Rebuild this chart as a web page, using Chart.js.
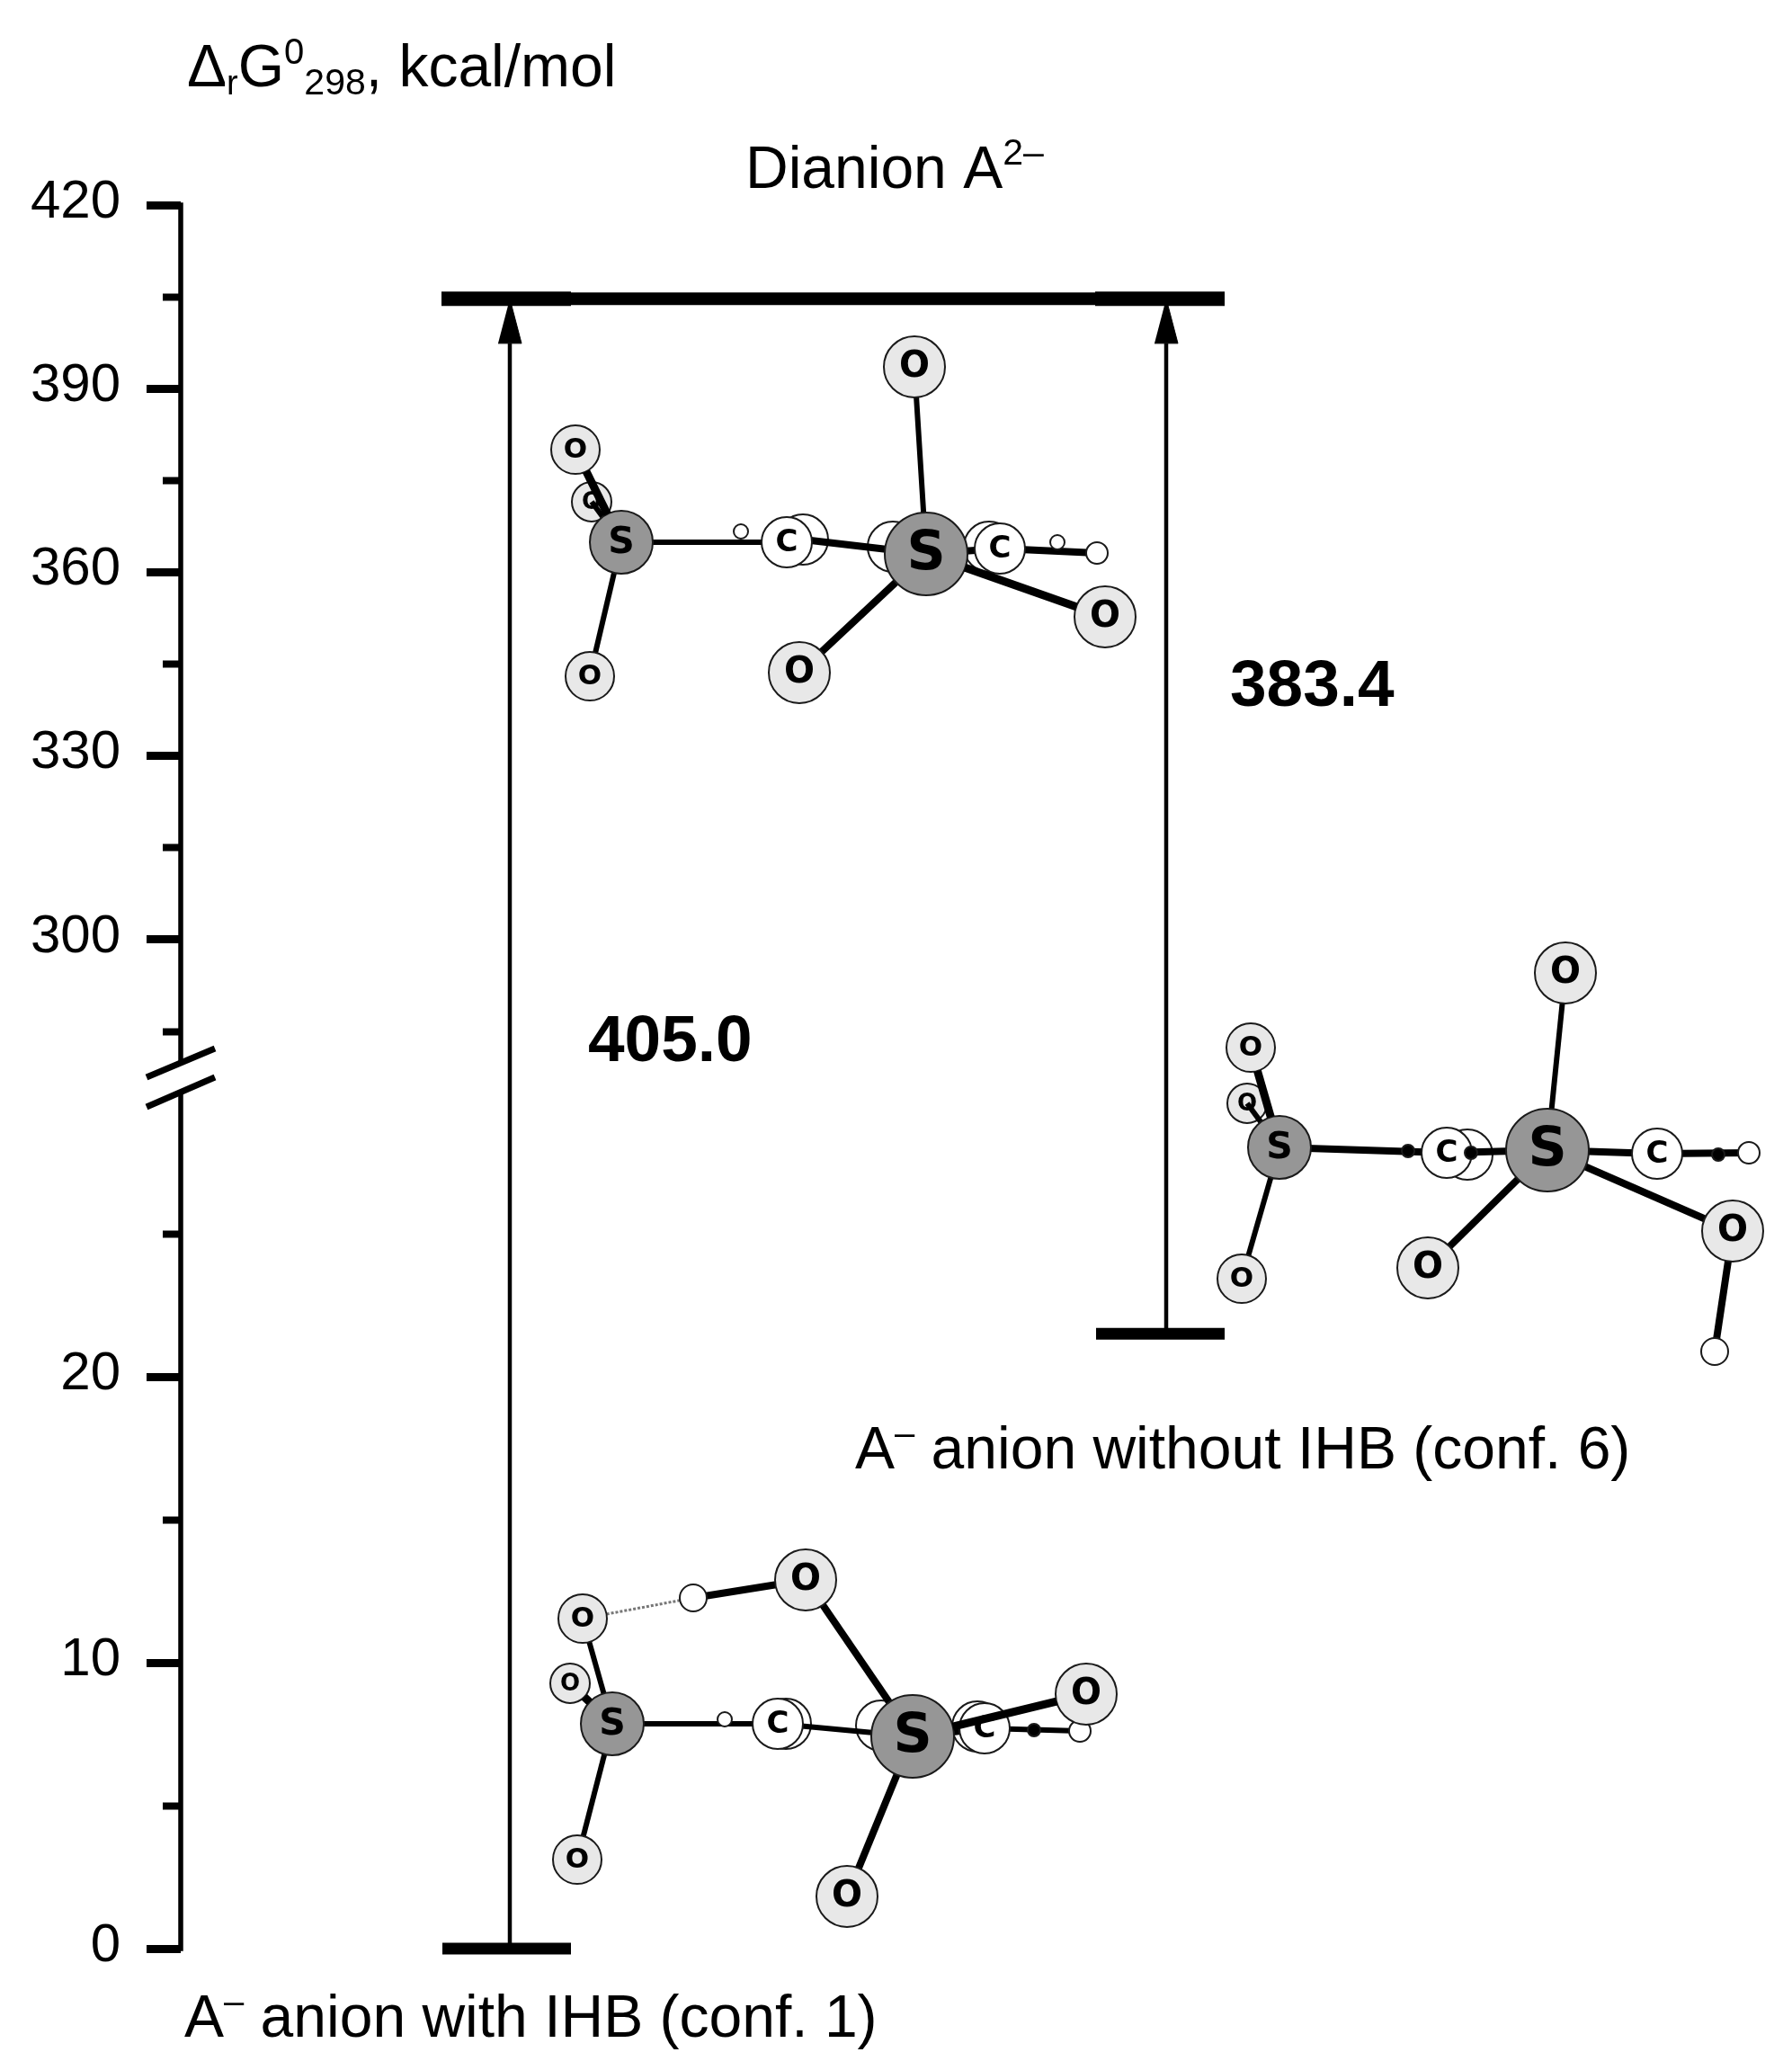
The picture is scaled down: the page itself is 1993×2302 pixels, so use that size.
<!DOCTYPE html>
<html>
<head>
<meta charset="utf-8">
<title>Energy diagram</title>
<script src="https://cdn.jsdelivr.net/npm/chart.js@4/dist/chart.umd.js"></script>
<style>
  html, body { margin: 0; padding: 0; background: #fff; }
  canvas { display: block; }
</style>
</head>
<body>
<canvas id="chart" width="1993" height="2302"></canvas>
<script>
// axis ticks, kcal/mol
const majorTicks = [0, 10, 20, 300, 330, 360, 390, 420];
const minorTicks = [5, 15, 25, 285, 315, 345, 375, 405];
const lowerAxisEnd = [0, 29.9];
const upperAxisEnd = [280, 420];

// energy levels
const levelDianion = 404.7;
const levelConf1 = 0;
const levelConf6 = 21.5;
const levelNames = ["Dianion A", "A– anion with IHB (conf. 1)", "A– anion without IHB (conf. 6)"];
const gapLabels = ["405.0", "383.4"];

// molecules, on the sheet axes (sx, sy)
const mol1Kinds = ["O","Om","Ob","S","C","Cb","Hs","SB","Cb","C","Cb","Hs","H","O","O","Om"];
const mol1X = [1017,640,658,691,875,893,824,1030,993,1112,1100,1176,1220,1229,889,656];
const mol1Y = [408,500,558,603,603,600,591,616,608,610,608,603,615,686,748,752];
const mol1Bonds = [[0,7,"mid"],[1,3,"over"],[2,3,"mid"],[3,15,"mid"],[3,4,"mid"],[5,7,"thick"],[7,9,"thick"],[9,12,"thick"],[7,13,"over"],[7,14,"thick"]];

const mol2Kinds = ["O","Om","Ob","S","Hd","C","Cb","Hd","SB","C","Hd","H","O","O","Om","Hl"];
const mol2X = [1741,1391,1387,1423,1566,1609,1632,1636,1721,1843,1911,1945,1927,1588,1381,1907];
const mol2Y = [1082,1165,1227,1276,1280,1282,1284,1282,1279,1283,1284,1282,1369,1410,1422,1503];
const mol2Bonds = [[0,8,"mid"],[1,3,"over"],[2,3,"mid"],[3,14,"mid"],[3,5,"thick"],[5,8,"thick"],[8,9,"thick"],[9,11,"thick"],[8,12,"thick"],[8,13,"thick"],[12,15,"thick"]];

const mol3Kinds = ["O","Hl","Om","Ob","S","Hs","C","Cb","Cb","SB","C","Cb","Hd","H","O","O","Om"];
const mol3X = [896,771,648,634,681,806,865,874,980,1015,1095,1087,1150,1201,1208,942,642];
const mol3Y = [1757,1777,1800,1872,1917,1912,1917,1917,1919,1931,1922,1920,1924,1925,1884,2109,2068];
const mol3Bonds = [[0,1,"thick"],[1,2,"hbond"],[0,9,"thick"],[2,4,"mid"],[3,4,"over"],[4,16,"mid"],[4,6,"mid"],[6,9,"mid"],[9,10,"thick"],[10,13,"mid"],[9,14,"over"],[9,15,"thick"]];

const atomStyles = {
  O:  { r: 34, fill: "#e8e8e8", label: "O", font: 40, layer: 2 },
  Om: { r: 27, fill: "#e8e8e8", label: "O", font: 31, layer: 2 },
  Ob: { r: 22, fill: "#e8e8e8", label: "O", font: 26, layer: 0 },
  S:  { r: 35, fill: "#969696", label: "S", font: 41, layer: 2 },
  SB: { r: 46, fill: "#969696", label: "S", font: 60, layer: 2 },
  C:  { r: 28, fill: "#ffffff", label: "C", font: 34, layer: 2 },
  Cb: { r: 28, fill: "#ffffff", label: "", font: 0, layer: 0 },
  Hs: { r: 8, fill: "#ffffff", label: "", font: 0, layer: 2 },
  H:  { r: 12, fill: "#ffffff", label: "", font: 0, layer: 2 },
  Hl: { r: 15, fill: "#ffffff", label: "", font: 0, layer: 2 },
  Hd: { r: 7, fill: "#000000", label: "", font: 0, layer: 2 },
};
const bondStyles = {
  mid: { width: 6, color: "#000", dash: [] },
  thick: { width: 8, color: "#000", dash: [] },
  over: { width: 9, color: "#000", dash: [] },
  hbond: { width: 3, color: "#777", dash: [3, 2] },
};

// y axis with the gap between 30 and 280
class BrokenScale extends Chart.LinearScale {
  getPixelForValue(value) {
    if (value === null || value === undefined) return NaN;
    const b = this.options.broken;
    return value <= b.gapFrom ? b.zeroPx - value * b.lowPerUnit : b.topPx + (b.top - value) * b.highPerUnit;
  }
  _computeLabelItems(area) {
    const items = super._computeLabelItems(area);
    const right = this.chart.scales.x.getPixelForValue(134);
    items.forEach(item => {
      item.options.translation = [right, item.options.translation[1] - 3];
    });
    return items;
  }
}
BrokenScale.id = "broken";
BrokenScale.defaults = Chart.LinearScale.defaults;
Chart.register(BrokenScale);

const brokenAxis = { gapFrom: 100, zeroPx: 2167, lowPerUnit: 31.8, top: 420, topPx: 228, highPerUnit: 6.808 };

const datasets = [];
function addLine(points, width, yAxisID, extra) {
  datasets.push(Object.assign({
    data: points, yAxisID: yAxisID, showLine: true, pointRadius: 0,
    borderColor: "#000", borderWidth: width, backgroundColor: "#000",
  }, extra));
}

// axis line and the break marks
addLine([{ x: 201, y: lowerAxisEnd[0] }, { x: 201, y: lowerAxisEnd[1] }], 5.5, "y", { borderCapStyle: "square" });
addLine([{ x: 201, y: upperAxisEnd[0] }, { x: 201, y: upperAxisEnd[1] }], 5.5, "y", { borderCapStyle: "square" });
addLine([{ x: 163, y: 1198 }, { x: 239, y: 1166 }], 7, "sy");
addLine([{ x: 163, y: 1231 }, { x: 239, y: 1198 }], 7, "sy");

// levels
addLine([{ x: 492, y: levelConf1 }, { x: 635, y: levelConf1 }], 13, "y");
addLine([{ x: 1219, y: levelConf6 }, { x: 1362, y: levelConf6 }], 13, "y");
addLine([{ x: 491, y: levelDianion }, { x: 1362, y: levelDianion }], 14, "y");
addLine([{ x: 491, y: levelDianion }, { x: 635, y: levelDianion }], 16, "y");
addLine([{ x: 1218, y: levelDianion }, { x: 1362, y: levelDianion }], 16, "y");

// arrows
function addArrow(x, from) {
  const tip = levelDianion;
  const base = tip - 7.3;
  addLine([{ x: x, y: from }, { x: x, y: base }], 4.5, "y");
  addLine([{ x: x - 13, y: base }, { x: x + 13, y: base }, { x: x, y: tip }], 1, "y", { fill: "shape" });
}
addArrow(567, levelConf1);
addArrow(1297, levelConf6);

// molecules: back atoms, bonds, front atoms, bonds lying on top
function addMolecule(kinds, xs, ys, bonds) {
  const addAtom = i => {
    const st = atomStyles[kinds[i]];
    datasets.push({
      data: [{ x: xs[i], y: ys[i] }], yAxisID: "sy", showLine: false,
      pointRadius: st.r, pointBackgroundColor: st.fill, pointBorderColor: "#1a1a1a", pointBorderWidth: 2,
      atomLabel: st.label, atomFont: st.font,
    });
  };
  const addBond = (b, trim) => {
    const st = bondStyles[b[2]];
    let ax = xs[b[0]], ay = ys[b[0]], bx = xs[b[1]], by = ys[b[1]];
    if (trim) {
      const len = Math.hypot(bx - ax, by - ay);
      const ra = atomStyles[kinds[b[0]]].r, rb = atomStyles[kinds[b[1]]].r;
      const ux = (bx - ax) / len, uy = (by - ay) / len;
      ax += ux * ra; ay += uy * ra;
      bx -= ux * rb; by -= uy * rb;
    }
    addLine([{ x: ax, y: ay }, { x: bx, y: by }], st.width, "sy", { borderColor: st.color, borderDash: st.dash });
  };
  kinds.forEach((k, i) => { if (atomStyles[k].layer === 0) addAtom(i); });
  bonds.filter(b => b[2] !== "over").forEach(b => addBond(b, false));
  kinds.forEach((k, i) => { if (atomStyles[k].layer === 2) addAtom(i); });
  bonds.filter(b => b[2] === "over").forEach(b => addBond(b, true));
}
addMolecule(mol1Kinds, mol1X, mol1Y, mol1Bonds);
addMolecule(mol2Kinds, mol2X, mol2Y, mol2Bonds);
addMolecule(mol3Kinds, mol3X, mol3Y, mol3Bonds);

// first dataset is painted last in chart.js, so number them backwards
datasets.forEach((d, i) => { d.order = datasets.length - i; });

const textRuns = [
  { x: 208, y: 96, runs: [["Δ", 66, 0], ["r", 38, 9], ["G", 66, 0], ["0", 40, -25], ["298", 41, 9], [", kcal/mol", 66, 0]] },
  { x: 829, y: 209, runs: [[levelNames[0], 66, 0], ["2–", 41, -26]] },
  { x: 205, y: 2265, runs: [["A", 66, 0], ["–", 40, -26], [" anion with IHB (conf. 1)", 66, 0]] },
  { x: 951, y: 1633, runs: [["A", 66, 0], ["–", 40, -26], [" anion without IHB (conf. 6)", 66, 0]] },
  { x: 654, y: 1180, bold: true, runs: [[gapLabels[0], 73, 0]] },
  { x: 1368, y: 785, bold: true, runs: [[gapLabels[1], 73, 0]] },
];

const labelsPlugin = {
  id: "labels",
  afterDatasetDraw(chart, args) {
    const ds = chart.data.datasets[args.index];
    if (!ds.atomLabel) return;
    const p = chart.getDatasetMeta(args.index).data[0];
    const ctx = chart.ctx;
    ctx.save();
    ctx.fillStyle = "#000";
    ctx.font = "bold " + ds.atomFont + "px 'DejaVu Sans'";
    ctx.textAlign = "center";
    ctx.textBaseline = "middle";
    ctx.fillText(ds.atomLabel, p.x, p.y + 1);
    ctx.restore();
  },
  afterDraw(chart) {
    const ctx = chart.ctx;
    const sx = chart.scales.x, sy = chart.scales.sy;
    ctx.save();
    ctx.fillStyle = "#000";
    ctx.textAlign = "left";
    ctx.textBaseline = "alphabetic";
    textRuns.forEach(t => {
      let x = sx.getPixelForValue(t.x);
      const y = sy.getPixelForValue(t.y);
      t.runs.forEach(r => {
        ctx.font = (t.bold ? "bold " : "") + r[1] + "px 'Liberation Sans'";
        ctx.fillText(r[0], x, y + r[2]);
        x += ctx.measureText(r[0]).width;
      });
    });
    ctx.restore();
  },
};

function brokenScale(ticks, length, tickWidth, showLabels) {
  return {
    type: "broken",
    position: { x: 201 },
    min: -4.25,
    max: 453.5,
    broken: brokenAxis,
    border: { display: false },
    grid: { drawOnChartArea: false, drawTicks: true, tickLength: length, tickWidth: tickWidth, tickColor: "#000" },
    ticks: {
      display: showLabels, autoSkip: false, maxRotation: 0, minRotation: 0, padding: 0,
      color: "#000", font: { family: "'Liberation Sans'", size: 60 },
      callback: v => String(v),
    },
    afterBuildTicks: s => { s.ticks = ticks.map(value => ({ value })); },
    afterFit: s => { s.paddingTop = 0; s.paddingBottom = 0; s.paddingLeft = 0; s.paddingRight = 0; },
  };
}

new Chart(document.getElementById("chart"), {
  type: "scatter",
  data: { datasets: datasets },
  plugins: [labelsPlugin],
  options: {
    responsive: false,
    animation: false,
    events: [],
    layout: { padding: 0, autoPadding: false },
    plugins: { legend: { display: false }, tooltip: { enabled: false }, title: { display: false } },
    scales: {
      x: { type: "linear", min: 0, max: 1993, display: false },
      sy: { type: "linear", min: 0, max: 2302, reverse: true, display: false },
      y: brokenScale(majorTicks, 38, 9, true),
      yMinor: brokenScale(minorTicks, 20, 8, false),
    },
  },
});
</script>
</body>
</html>
